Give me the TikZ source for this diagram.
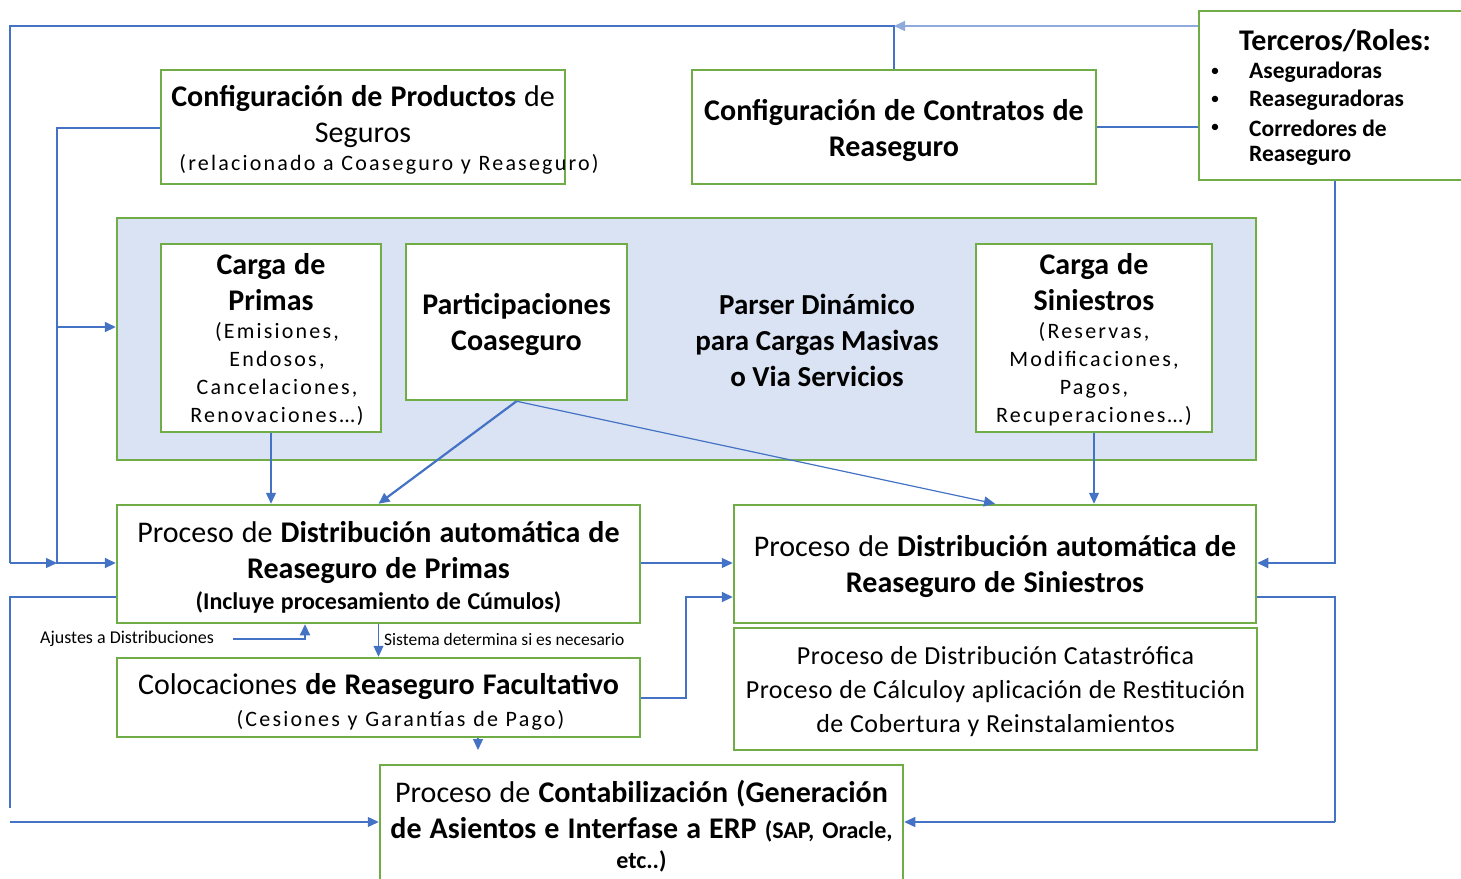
\documentclass[tikz,border=0pt]{standalone}
\usepackage{fontspec}
\setmainfont{Carlito}
\usetikzlibrary{arrows.meta}
\definecolor{gb}{HTML}{70AD47}
\definecolor{bl}{HTML}{4472C4}
\definecolor{lbl}{HTML}{8FAADC}
\definecolor{fillb}{HTML}{DAE3F3}
\newcommand{\fbig}{\fontsize{30}{36}\selectfont\spaceskip=0.27em\relax}
\newcommand{\fsub}{\fontsize{22}{28}\selectfont\addfontfeatures{LetterSpace=10}\spaceskip=0.35em\relax}
\newcommand{\fmid}{\fontsize{26}{34}\selectfont\addfontfeatures{LetterSpace=2}\spaceskip=0.26em\relax}
\newcommand{\cl}[1]{\makebox[\linewidth][c]{#1}}
\begin{document}
\begin{tikzpicture}[x=1pt,y=-1pt,
  box/.style={draw=gb, line width=2.5pt, fill=white, inner sep=0pt, align=center},
  conn/.style={draw=bl, line width=2.2pt},
  thinc/.style={draw=bl, line width=1.2pt},
  arr/.style={-{Triangle[length=11pt,width=10pt]}},
  lab/.style={inner sep=0pt, font=\fontsize{18}{20}\selectfont}]
\useasboundingbox (0,0) rectangle (1461,878);
% boxes
\node[box, minimum width=404pt, minimum height=114pt, text width=400pt] (prod) at (363,127)
  {\fbig\textbf{Configuración de Productos} de\\Seguros\par
   \fsub\cl{\hspace*{52pt}(relacionado a Coaseguro y Reaseguro)}\par\kern-6pt};
\node[box, minimum width=404pt, minimum height=114pt, text width=400pt] (contr) at (894,127)
  {\fbig\bfseries Configuración de Contratos de\\Reaseguro\par\kern-6pt};
\node[box, minimum width=275pt, minimum height=169pt] (terc) at (1336.5,95.5) {};
\node[inner sep=0pt, font=\fontsize{30}{32}\selectfont\bfseries] (tt) at (1335,41) {Terceros/Roles:};
\foreach \y/\t [count=\i] in {72/Aseguradoras,100/Reaseguradoras,128/Corredores de}{
  \node[inner sep=0pt, font=\fontsize{18}{24}\selectfont] (b\i) at (1215,\y) {•};
  \node[inner sep=0pt, anchor=west, font=\fontsize{23.5}{26}\selectfont\bfseries] (t\i) at (1249,\y) {\t};}
\node[inner sep=0pt, anchor=west, font=\fontsize{23.5}{26}\selectfont\bfseries] (t4) at (1249,156) {Reaseguro};
\node[draw=gb, line width=2.5pt, fill=fillb, minimum width=1139pt, minimum height=242pt, inner sep=0pt] (big) at (686.5,339) {};
\node[box, minimum width=220pt, minimum height=188pt, text width=216pt] (cprim) at (271,338)
  {\fbig\bfseries Carga de\\Primas\par
   \fsub\mdseries\hspace*{12pt}(Emisiones,\\\hspace*{12pt}Endosos,\\\hspace*{12pt}Cancelaciones,\\\hspace*{12pt}Renovaciones…)\par\kern-2pt};
\node[box, minimum width=221pt, minimum height=156pt, text width=216pt] (part) at (516.5,322)
  {\fbig\bfseries Participaciones\\Coaseguro\par\kern-4pt};
\node[inner sep=0pt, align=center, font=\fontsize{29}{36}\selectfont\bfseries] (parser) at (817,340)
  {Parser Dinámico\\para Cargas Masivas\\o Via Servicios};
\node[box, minimum width=236pt, minimum height=188pt, text width=232pt] (csin) at (1094,338)
  {\fbig\bfseries Carga de\\Siniestros\par
   \fsub\mdseries (Reservas,\\Modificaciones,\\Pagos,\\Recuperaciones…)\par\kern-4pt};
\node[box, minimum width=523pt, minimum height=118pt, text width=519pt] (pprim) at (378.5,564)
  {\fbig Proceso de \textbf{Distribución automática de}\\\textbf{Reaseguro de Primas}\par
   \fontsize{24}{31}\selectfont\bfseries\spaceskip=0.27em (Incluye procesamiento de Cúmulos)\par\kern-6pt};
\node[box, minimum width=522pt, minimum height=118pt, text width=518pt] (psin) at (995,564)
  {\fbig Proceso de \textbf{Distribución automática de}\\\textbf{Reaseguro de Siniestros}\par\kern-4pt};
\node[box, minimum width=523pt, minimum height=122pt, text width=519pt] (cat) at (995.5,689)
  {\fmid Proceso de Distribución Catastrófica\\\cl{Proceso de Cálculoy aplicación de Restitución}\\de Cobertura y Reinstalamientos\par\kern-6pt};
\node[box, minimum width=523pt, minimum height=79pt, text width=519pt] (fac) at (378.5,697.5)
  {\fbig Colocaciones \textbf{de Reaseguro Facultativo}\par
   \fsub\baselineskip=32pt\hspace*{44pt}(Cesiones y Garantías de Pago)\par\kern-8pt};
\node[box, minimum width=523pt, minimum height=130pt, text width=519pt] (cont) at (641.5,830)
  {\fbig Proceso de \textbf{Contabilización (Generación}\\\textbf{de Asientos e Interfase a ERP} {\fontsize{24}{36}\selectfont\bfseries(SAP, Oracle,}\par
   \fontsize{24}{30}\selectfont\bfseries etc..)\par\kern8pt};
% labels
\node[lab] (aj) at (127,639) {Ajustes a Distribuciones};
\node[lab, anchor=west, font=\fontsize{17.5}{20}\selectfont] (sis) at (384,639) {Sistema determina si es necesario};
% coordinates
\coordinate (c1) at (894,26);
\coordinate (c2) at (10,26);
\coordinate (c3) at (10,563);
\coordinate (c4) at (57,563);
\coordinate (c5) at (57,128);
\coordinate (c6) at (57,327);
\coordinate (c7) at (1335,563);
\coordinate (c8) at (10,597);
\coordinate (c9) at (10,808);
\coordinate (c10) at (10,822);
\coordinate (c11) at (1335,597);
\coordinate (c12) at (1335,822);
\coordinate (c13) at (686,698);
\coordinate (c14) at (686,597);
\coordinate (c15) at (233,639);
\coordinate (c16) at (305,639);
\coordinate (c17) at (478,750);
% connectors
\draw[draw=lbl, line width=1.3pt, arr] (terc.west |- c1) -- (c1);
\draw[conn] (contr.north) -- (c1) -- (c2) -- (c3);
\draw[thinc, arr] (c3) -- (c4);
\draw[conn, arr] (prod.west |- c5) -- (c5) -- (c4) -- (pprim.west |- c4);
\draw[conn, arr] (c6) -- (big.west |- c6);
\draw[thinc] (contr.east) -- (terc.west |- contr.east);
\draw[conn, arr] (terc.south -| c7) -- (c7) -- (psin.east |- c7);
\draw[thinc, arr] (cprim.south) -- (cprim.south |- pprim.north);
\draw[conn, arr] (part.south) -- (pprim.north);
\draw[thinc, arr] (part.south) -- (psin.north);
\draw[thinc, arr] (csin.south) -- (csin.south |- psin.north);
\draw[thinc, arr] (pprim.east |- c4) -- (psin.west |- c4);
\draw[conn] (pprim.west |- c8) -- (c8) -- (c9);
\draw[thinc, arr] (c10) -- (cont.west |- c10);
\draw[conn] (psin.east |- c11) -- (c11) -- (c12);
\draw[thinc, arr] (c12) -- (cont.east |- c12);
\draw[conn, arr] (fac.east |- c13) -- (c13) -- (c14) -- (psin.west |- c14);
\draw[conn, arr] (c15) -- (c16) -- (c16 |- pprim.south);
\draw[thinc, arr] (pprim.south) -- (fac.north);
\draw[thinc, arr] (fac.south -| c17) -- (c17);
\end{tikzpicture}
\end{document}
